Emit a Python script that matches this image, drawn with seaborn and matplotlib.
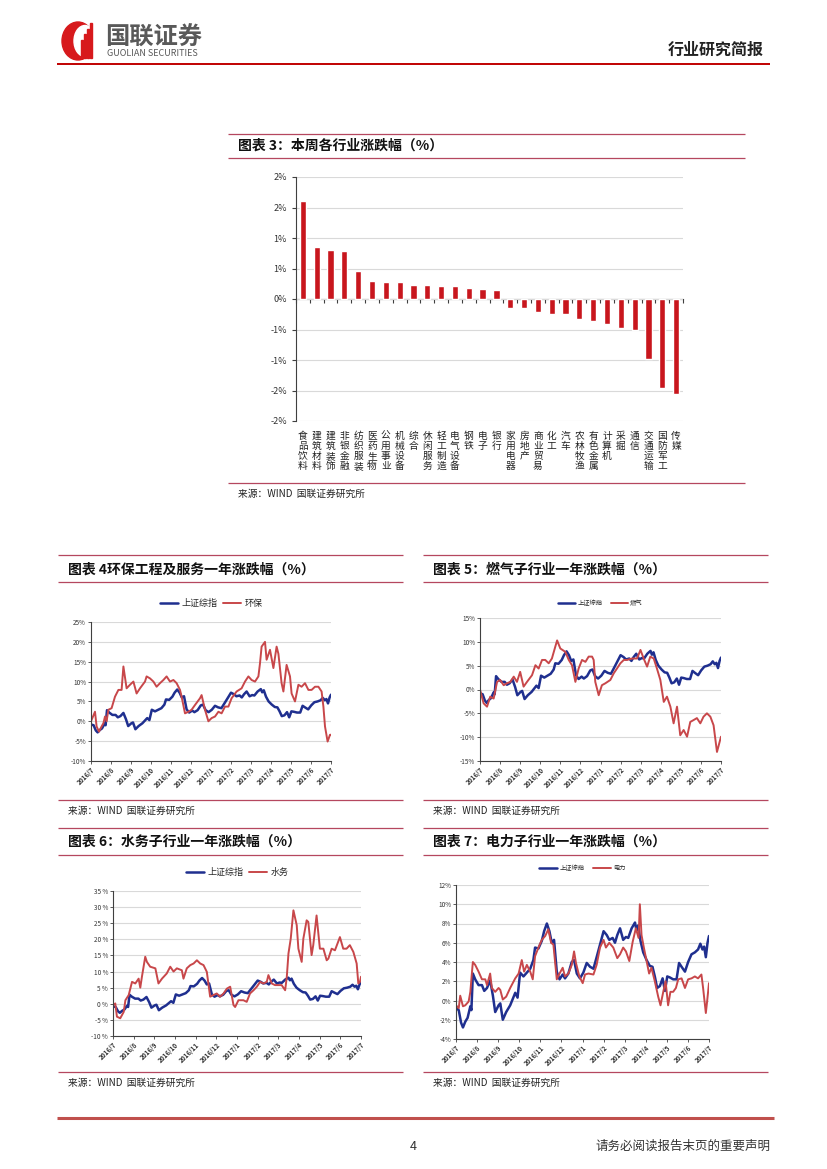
import numpy as np
import pandas as pd
import seaborn as sns
import matplotlib.pyplot as plt
from matplotlib.patches import Ellipse, Rectangle
from matplotlib.ticker import FuncFormatter

# ---------------- data ----------------
# 图表3 本周各行业涨跌幅
industries = ['食品饮料', '建筑材料', '建筑装饰', '非银金融', '纺织服装', '医药生物', '公用事业',
              '机械设备', '综合', '休闲服务', '轻工制造', '电气设备', '钢铁', '电子', '银行',
              '家用电器', '房地产', '商业贸易', '化工', '汽车', '农林牧渔', '有色金属', '计算机',
              '采掘', '通信', '交通运输', '国防军工', '传媒']
weekly_change = [1.61, 0.86, 0.80, 0.78, 0.46, 0.30, 0.28, 0.28, 0.23, 0.23, 0.22, 0.22, 0.175,
                 0.16, 0.15, -0.14, -0.155, -0.21, -0.25, -0.25, -0.32, -0.36, -0.41, -0.47,
                 -0.50, -0.99, -1.46, -1.55]
bar_yticks = [-2, -1.5, -1, -0.5, 0, 0.5, 1, 1.5, 2]
bar_yticklabels = ['-2%', '-2%', '-1%', '-1%', '0%', '1%', '1%', '2%', '2%']

# 一年走势 x 轴（自 2016/7 起的月数）
month_labels = ['2016/7', '2016/8', '2016/9', '2016/10', '2016/11', '2016/12', '2017/1',
                '2017/2', '2017/3', '2017/4', '2017/5', '2017/6', '2017/7']

# 上证综指
sh_month = [0, 0.13, 0.24, 0.33, 0.44, 0.55, 0.68, 0.73, 0.8, 0.91, 1.07, 1.23, 1.34, 1.47, 1.62,
            1.75, 1.86, 2.02, 2.1, 2.22, 2.38, 2.57, 2.81, 2.92, 3.04, 3.2, 3.36, 3.52, 3.67, 3.75,
            3.91, 4.07, 4.18, 4.31, 4.43, 4.54, 4.65, 4.78, 4.91, 5.06, 5.17, 5.33, 5.49, 5.6,
            5.73, 5.88, 6.04, 6.2, 6.36, 6.52, 6.67, 6.83, 7.0, 7.15, 7.27, 7.43, 7.54, 7.65,
            7.78, 7.93, 8.06, 8.17, 8.33, 8.49, 8.56, 8.64, 8.75, 8.88, 9.04, 9.19, 9.32, 9.43,
            9.54, 9.67, 9.8, 9.91, 10.02, 10.14, 10.3, 10.46, 10.58, 10.7, 10.86, 11.01, 11.17,
            11.33, 11.48, 11.59, 11.69, 11.77, 11.85, 11.93, 12]
sh_value = [-0.8, -1.0, -2.3, -2.8, -2.2, -1.8, -0.6, -1.0, 2.8, 2.2, 1.6, 1.6, 1.0, 1.3, 2.1,
            0.5, -1.2, -0.5, -0.3, -2.0, -1.2, -0.5, 0.8, 0.3, 2.9, 2.5, 2.9, 3.3, 4.2, 5.5,
            5.4, 6.2, 7.2, 8.0, 7.2, 6.0, 6.3, 3.0, 2.2, 2.7, 2.3, 2.8, 4.0, 4.2,
            2.8, 2.3, 2.9, 3.9, 3.5, 3.3, 4.5, 5.8, 7.2, 6.8, 6.3, 6.5, 6.0, 6.8,
            7.5, 6.3, 6.6, 6.5, 7.5, 8.1, 7.3, 7.8, 6.2, 5.0, 4.2, 3.6, 3.5, 2.5,
            1.3, 1.5, 2.3, 1.0, 2.5, 2.4, 2.2, 2.2, 3.9, 3.5, 3.0, 4.0, 4.8,
            5.0, 5.3, 5.9, 5.3, 5.6, 4.5, 6.0, 6.7]

# 环保
hb_month = [0, 0.2, 0.28, 0.4, 0.53, 0.62, 0.7, 0.78, 0.87, 1.03, 1.2, 1.37, 1.53, 1.62, 1.78,
            1.95, 2.12, 2.28, 2.45, 2.7, 2.78, 2.95, 3.12, 3.28, 3.45, 3.62, 3.78, 3.95, 4.12,
            4.28, 4.45, 4.53, 4.7, 4.87, 5.03, 5.2, 5.45, 5.53, 5.7, 5.87, 6.03, 6.2, 6.37, 6.53,
            6.7, 6.87, 7.03, 7.28, 7.53, 7.7, 7.87, 8.03, 8.2, 8.37, 8.45, 8.53, 8.7, 8.78, 8.95,
            9.12, 9.28, 9.37, 9.53, 9.62, 9.78, 9.95, 10.03, 10.2, 10.37, 10.53, 10.7, 10.87,
            11.03, 11.2, 11.37, 11.53, 11.62, 11.7, 11.83, 11.95, 12]
hb_value = [0.0, 2.4, -1.3, -2.6, -1.3, -0.5, 1.2, 0.0, 2.9, 3.3, 6.2, 7.9, 7.9, 13.8, 8.3,
            9.2, 10.0, 7.0, 8.3, 10.0, 11.3, 10.8, 10.0, 8.7, 9.6, 10.4, 11.3, 10.0, 10.4,
            9.6, 7.9, 6.2, 2.0, 2.4, 2.9, 4.1, 5.8, 6.6, 2.9, 0.0, 0.8, 1.2, 2.4, 2.0,
            3.7, 3.7, 5.8, 7.5, 8.3, 10.0, 11.3, 10.4, 10.0, 11.3, 14.6, 18.8, 20.0, 15.5, 18.0,
            13.4, 18.8, 17.0, 9.6, 7.5, 14.2, 11.3, 7.0, 5.0, 9.2, 8.7, 9.6, 7.9,
            7.9, 8.7, 8.7, 7.5, 3.7, -1.3, -5.1, -3.4, -3.4]

# 燃气
rq_month = [0, 0.18, 0.35, 0.51, 0.68, 0.85, 1.0, 1.18, 1.34, 1.51, 1.68, 1.84, 2.0, 2.17, 2.34,
            2.59, 2.76, 2.92, 3.09, 3.25, 3.42, 3.58, 3.75, 3.84, 4.0, 4.25, 4.42, 4.58, 4.75,
            4.91, 5.08, 5.25, 5.41, 5.58, 5.66, 5.74, 5.91, 6.07, 6.24, 6.49, 6.66, 6.82, 6.99,
            7.16, 7.32, 7.57, 7.82, 7.99, 8.15, 8.32, 8.48, 8.65, 8.81, 8.98, 9.15, 9.31, 9.48,
            9.64, 9.81, 9.97, 10.14, 10.31, 10.47, 10.64, 10.8, 10.97, 11.13, 11.3, 11.47,
            11.63, 11.8, 12]
rq_value = [0.0, -2.9, -3.6, -1.5, -1.9, 1.6, 2.0, 0.9, 1.3, 1.6, 2.7, 1.6, 3.7, 0.6, 1.6,
            3.0, 5.1, 4.4, 6.2, 6.2, 5.5, 6.5, 9.0, 10.3, 8.6, 7.9, 6.2, 5.1, 1.6,
            4.4, 6.2, 5.8, 6.9, 6.9, 6.2, 1.6, -1.2, 0.9, 1.3, 2.0, 3.4, 4.4, 5.5,
            6.2, 6.2, 6.5, 6.5, 8.3, 6.5, 4.8, 6.9, 6.5, 4.4, 2.0, -2.6, -1.5, -3.6,
            -7.1, -3.6, -9.6, -8.5, -9.9, -6.8, -6.4, -6.0, -7.1, -5.7, -5.0, -5.7,
            -7.5, -13.1, -9.9]

# 水务
sw_month = [0, 0.11, 0.19, 0.35, 0.52, 0.6, 0.76, 0.92, 1.08, 1.24, 1.32, 1.4, 1.56, 1.64, 1.8,
            2.05, 2.2, 2.37, 2.6, 2.77, 2.93, 3.09, 3.33, 3.41, 3.57, 3.74, 3.9, 4.06, 4.22,
            4.38, 4.54, 4.7, 4.86, 5.02, 5.18, 5.35, 5.51, 5.67, 5.83, 5.91, 6.07, 6.31, 6.47,
            6.63, 6.8, 6.96, 7.12, 7.28, 7.44, 7.52, 7.68, 7.84, 8.0, 8.16, 8.33, 8.41, 8.49,
            8.6, 8.73, 8.89, 8.97, 9.13, 9.21, 9.37, 9.45, 9.61, 9.69, 9.85, 10.01, 10.18,
            10.34, 10.42, 10.58, 10.74, 10.98, 11.14, 11.3, 11.46, 11.63, 11.79, 11.87, 11.95, 12]
sw_value = [-0.4, 0.1, -4.0, -4.5, -2.5, 1.1, 2.7, 6.8, 6.3, 7.8, 5.0, 8.4, 14.6, 13.0, 11.5,
            11.0, 6.3, 7.8, 9.4, 11.5, 10.0, 11.0, 10.4, 7.8, 11.0, 12.0, 12.5, 13.5, 12.5,
            12.0, 9.9, 2.2, 2.7, 3.2, 2.2, 3.2, 4.7, 5.3, -0.4, -1.0, 1.1, 1.1, 0.6,
            3.2, 4.2, 5.3, 6.8, 6.3, 6.8, 8.9, 6.3, 5.8, 5.8, 5.8, 4.2, 8.4, 15.6,
            20.2, 29.0, 24.4, 17.1, 13.0, 20.2, 25.9, 25.4, 15.1, 18.2, 27.4, 17.1, 17.1,
            13.5, 14.0, 17.1, 16.6, 20.7, 17.1, 17.1, 18.2, 16.1, 12.5, 6.3, 6.8, 8.4]

# 电力
dl_month = [0, 0.13, 0.2, 0.33, 0.44, 0.6, 0.68, 0.76, 0.8, 0.91, 1.07, 1.23, 1.39, 1.47, 1.62,
            1.7, 1.86, 2.02, 2.1, 2.22, 2.38, 2.57, 2.81, 2.97, 3.12, 3.23, 3.36, 3.52, 3.64,
            3.75, 3.91, 4.07, 4.23, 4.38, 4.51, 4.62, 4.78, 4.91, 5.06, 5.17, 5.33, 5.49, 5.6,
            5.69, 5.85, 6.01, 6.12, 6.28, 6.52, 6.67, 6.83, 7.0, 7.11, 7.27, 7.46, 7.65, 7.78,
            7.93, 8.06, 8.22, 8.38, 8.53, 8.66, 8.72, 8.8, 8.91, 9.04, 9.16, 9.27, 9.43, 9.59,
            9.7, 9.83, 9.94, 10.06, 10.17, 10.3, 10.43, 10.54, 10.7, 10.86, 11.01, 11.17, 11.33,
            11.48, 11.64, 11.72, 11.85, 11.91, 12]
dl_value = [-0.5, -0.8, 0.5, -0.6, -0.5, -0.1, 0.9, 3.0, 4.0, 3.7, 3.0, 2.2, 2.2, 1.6, 2.8,
            1.3, 0.9, 1.3, 1.1, 0.1, 0.4, 1.3, 2.3, 2.8, 4.2, 3.0, 3.7, 3.0, 2.2,
            4.6, 5.5, 6.3, 6.7, 7.4, 6.0, 5.8, 2.2, 2.8, 3.4, 2.5, 2.8, 3.7, 5.1,
            3.9, 2.5, 1.8, 2.7, 2.8, 2.7, 3.7, 5.5, 6.3, 5.5, 6.0, 5.5, 4.4, 4.8,
            5.5, 5.1, 4.1, 6.1, 7.5, 6.5, 10.0, 6.8, 5.5, 4.1, 2.8, 3.4, 2.0, 0.4,
            -0.5, 0.9, 2.0, -0.5, 0.9, 0.9, 1.3, 2.2, 2.3, 1.3, 2.2, 2.3, 2.5,
            2.3, 2.7, 1.3, -1.3, -0.1, 1.8]

# ---------------- style ----------------
sns.set_style('white')
plt.rcParams['font.family'] = ['Noto Sans CJK SC', 'DejaVu Sans']
plt.rcParams['axes.unicode_minus'] = False

W, H = 827, 1169
BAR_RED = '#C8161D'
BLUE = '#1F2F8F'
RED = '#C8474A'
FRAME = '#B5475F'
GRID = '#D9D9D9'
AX_COL = '#404040'


def px_box(x0, y0, x1, y1):
    return [x0 / W, 1 - y1 / H, (x1 - x0) / W, (y1 - y0) / H]


fig = plt.figure(figsize=(8.27, 11.69), dpi=100)

# overlay for page decorations, in pixel coordinates
ov = fig.add_axes([0, 0, 1, 1])
ov.set_xlim(0, W)
ov.set_ylim(H, 0)
ov.axis('off')

# header: logo + texts
ov.add_patch(Ellipse((78, 41), 32, 38, color='#D7191C'))
ov.add_patch(Ellipse((85, 41), 22, 31, color='white'))
for bx, top in [(80.5, 40), (83.5, 34), (86.5, 29), (89.5, 23)]:
    ov.add_patch(Rectangle((bx, top), 2, 58 - top, color='#D7191C'))
ov.text(105, 38, '国联证券', fontsize=17.5, fontweight='bold', color='#595959', va='center')
ov.text(107, 53, 'GUOLIAN SECURITIES', fontsize=6.5, color='#595959', va='center')
ov.text(764, 50, '行业研究简报', fontsize=11.5, fontweight='bold', color='#222222',
        va='center', ha='right')
ov.hlines(64, 57, 770, color='#C00000', lw=1.4)

# footer
ov.hlines(1118, 57, 774, color='#C0504D', lw=2.2)
ov.text(413, 1146, '4', fontsize=9, color='#333333', ha='center', va='center')
ov.text(770, 1146, '请务必阅读报告末页的重要声明', fontsize=9, color='#333333',
        ha='right', va='center')


def frame(x0, x1, y_top, y_title, y_line, y_bottom, title, y_src):
    ov.hlines([y_top, y_line, y_bottom], x0, x1, color=FRAME, lw=0.9)
    ov.text(x0 + 10, y_title, title, fontsize=10, fontweight='bold', color='#111111',
            va='center', style='italic')
    ov.text(x0 + 10, y_src, '来源：WIND  国联证券研究所', fontsize=7, color='#222222',
            va='center')


frame(228, 745, 134, 146, 158, 483, '图表 3：本周各行业涨跌幅（%）', 494)
frame(58, 403, 555, 570, 582, 800, '图表 4环保工程及服务一年涨跌幅（%）', 811)
frame(423, 768, 555, 570, 582, 800, '图表 5：燃气子行业一年涨跌幅（%）', 811)
frame(58, 403, 828, 842, 855, 1072, '图表 6：水务子行业一年涨跌幅（%）', 1083)
frame(423, 768, 828, 842, 855, 1072, '图表 7：电力子行业一年涨跌幅（%）', 1083)

# ---------------- 图表3 bar chart ----------------
ax3 = fig.add_axes(px_box(296, 177, 683, 421))
df3 = pd.DataFrame({'行业': industries, '涨跌幅': weekly_change})
sns.barplot(data=df3, x='行业', y='涨跌幅', color=BAR_RED, saturation=1, width=0.45, ax=ax3)
ax3.set_xlim(-0.5, len(industries) - 0.5)
ax3.set_ylim(-2, 2)
ax3.set_yticks(bar_yticks, bar_yticklabels)
ax3.set_xticks(range(len(industries)), ['\n'.join(s) for s in industries])
for t in ax3.get_xticklabels():
    t.set_linespacing(1.0)
ax3.set_xlabel('')
ax3.set_ylabel('')
ax3.yaxis.grid(True, color=GRID, lw=0.8)
ax3.set_axisbelow(True)
for s in ['top', 'right', 'bottom']:
    ax3.spines[s].set_visible(False)
ax3.spines['left'].set_color(AX_COL)
ax3.spines['left'].set_linewidth(0.8)
ax3.tick_params(axis='x', length=0, pad=7, labelsize=7, labelcolor='#222222')
ax3.tick_params(axis='y', length=3, width=0.8, direction='out', color=AX_COL,
                labelsize=6.5, labelcolor='#333333', left=True)
zero_ax = ax3.secondary_xaxis(0.5)
zero_ax.set_xticks(np.arange(-0.5, len(industries), 1))
zero_ax.xaxis.set_ticks_position('bottom')
zero_ax.tick_params(axis='x', length=3, width=0.8, direction='out', color=AX_COL,
                    labelbottom=False, labeltop=False)
for s in zero_ax.spines.values():
    s.set_color(AX_COL)
    s.set_linewidth(0.8)


# ---------------- line charts ----------------
def line_panel(box, sub_month, sub_value, sub_name, ylim, step, leg_fs, leg_y,
               handle_len, col_space, pct_sep=''):
    ax = fig.add_axes(px_box(*box))
    sns.lineplot(x=sh_month, y=sh_value, color=BLUE, lw=1.8, label='上证综指', ax=ax)
    sns.lineplot(x=sub_month, y=sub_value, color=RED, lw=1.4, label=sub_name, ax=ax)
    ax.set_xlim(0, 12)
    ax.set_ylim(*ylim)
    ax.set_yticks(np.arange(ylim[0], ylim[1] + step / 2, step))
    ax.yaxis.set_major_formatter(FuncFormatter(lambda v, p: f'{v:.0f}{pct_sep}%'))
    ax.set_xticks(range(len(month_labels)), month_labels)
    for t in ax.get_xticklabels():
        t.set_rotation(45)
        t.set_ha('right')
        t.set_rotation_mode('anchor')
        t.set_fontweight('bold')
    ax.yaxis.grid(True, color=GRID, lw=0.8)
    ax.set_axisbelow(True)
    for s in ['top', 'right']:
        ax.spines[s].set_visible(False)
    for s in ['left', 'bottom']:
        ax.spines[s].set_color(AX_COL)
        ax.spines[s].set_linewidth(0.8)
    ax.tick_params(axis='both', length=2, width=0.6, direction='out', color=AX_COL,
                   labelsize=4.6, labelcolor='#333333', pad=1.5, left=True, bottom=True)
    ax.set_xlabel('')
    ax.set_ylabel('')
    ax.legend(loc='center', bbox_to_anchor=(0.5, leg_y), ncol=2, frameon=False,
              fontsize=leg_fs, handlelength=handle_len, columnspacing=col_space,
              handletextpad=0.4)
    return ax


line_panel((91, 622, 331, 761), hb_month, hb_value, '环保', (-10, 25), 5, 6.5, 1.13, 2.0, 0.6)
line_panel((480, 618, 721, 761), rq_month, rq_value, '燃气', (-15, 15), 5, 4.5, 1.105, 2.7, 1.3)
line_panel((113, 891, 361, 1036), sw_month, sw_value, '水务', (-10, 35), 5, 6.5, 1.13, 2.0, 0.6,
           pct_sep=' ')
line_panel((456, 885, 709, 1039), dl_month, dl_value, '电力', (-4, 12), 2, 4.5, 1.11, 2.9, 1.3)

fig.savefig('out.png', dpi=100)
